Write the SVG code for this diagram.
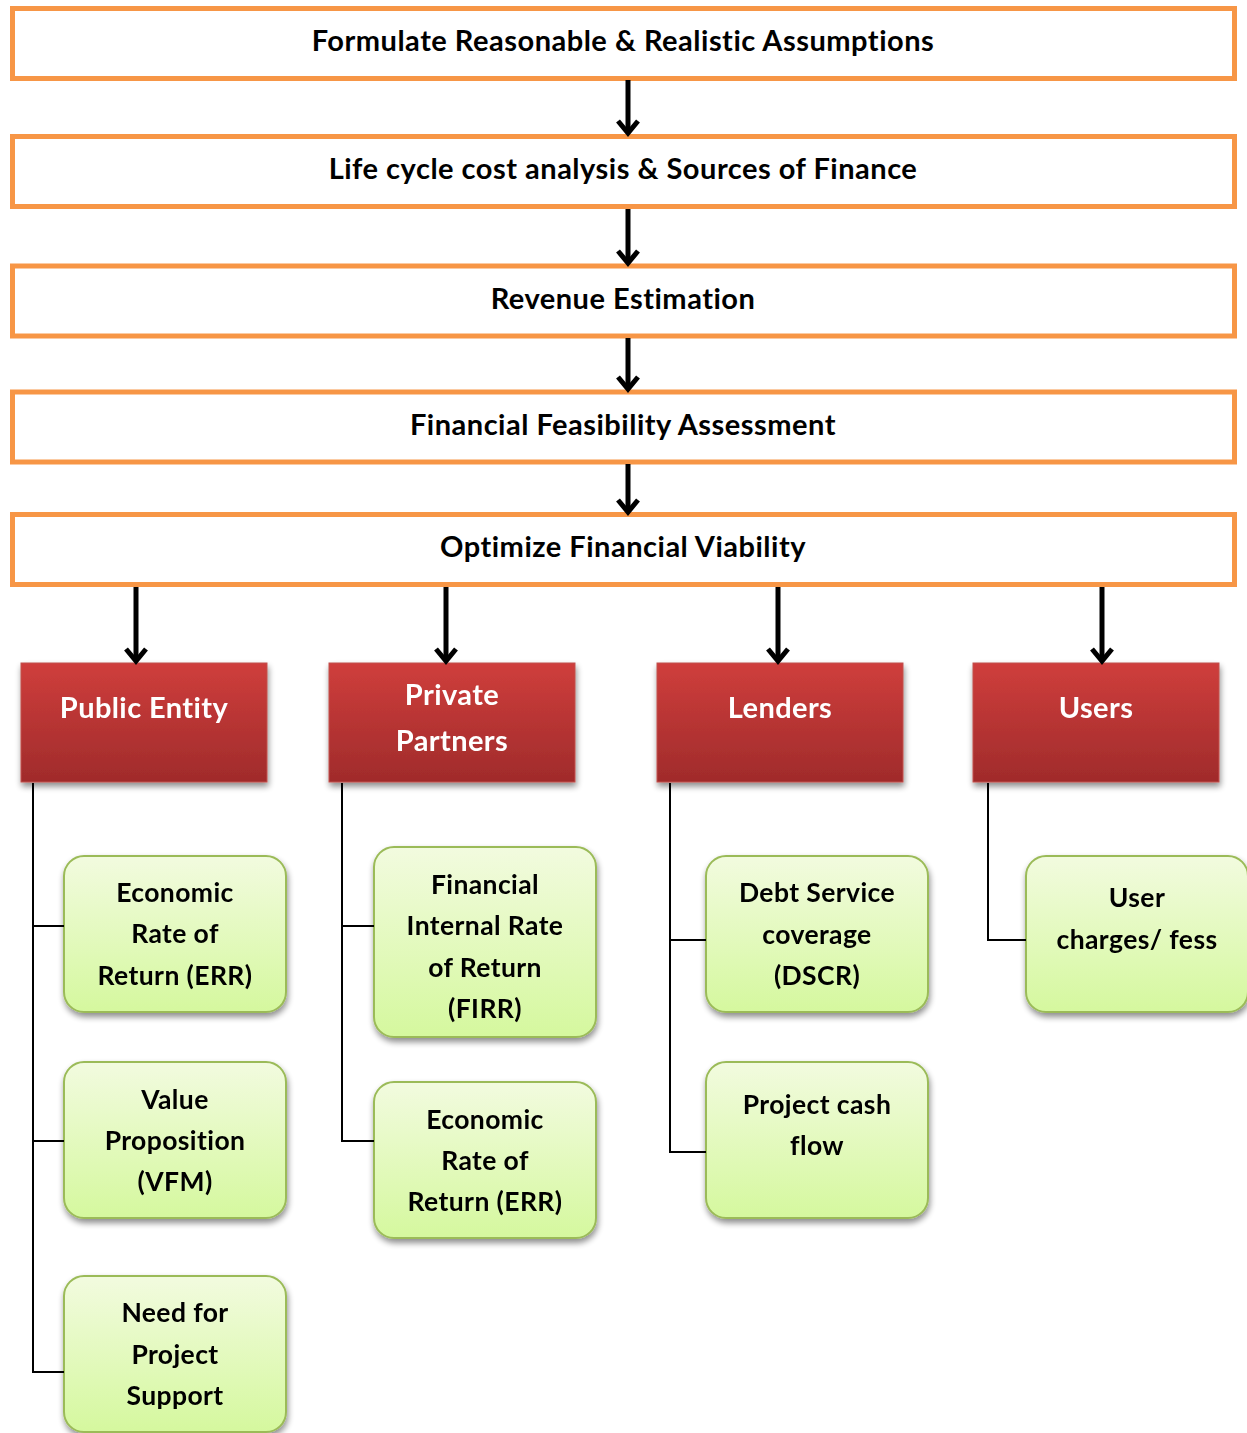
<svg xmlns="http://www.w3.org/2000/svg" width="1247" height="1433" viewBox="0 0 1247 1433">
<defs>
<linearGradient id="red" x1="0" y1="0" x2="0" y2="1"><stop offset="0" stop-color="#CF3E3C"/><stop offset="1" stop-color="#A02B2B"/></linearGradient>
<linearGradient id="green" x1="0" y1="0" x2="0" y2="1"><stop offset="0" stop-color="#F2FBDF"/><stop offset="1" stop-color="#D5F89E"/></linearGradient>
<filter id="sh" x="-10%" y="-10%" width="125%" height="130%"><feGaussianBlur in="SourceAlpha" stdDeviation="3"/><feOffset dx="1" dy="4"/><feComponentTransfer><feFuncA type="linear" slope="0.45"/></feComponentTransfer><feMerge><feMergeNode/><feMergeNode in="SourceGraphic"/></feMerge></filter>
</defs>
<style>
.ob{fill:#fff;stroke:#F79646;stroke-width:5}
.ot{font-family:Lato,"Open Sans",sans-serif;font-weight:bold;font-size:29px;letter-spacing:0.5px;fill:#000;text-anchor:middle}
.rb{fill:url(#red);stroke:#C0504D;stroke-width:1}
.rt{font-family:Lato,"Open Sans",sans-serif;font-weight:bold;font-size:29px;letter-spacing:0.4px;fill:#fff;text-anchor:middle}
.gb{fill:url(#green);stroke:#9BBB59;stroke-width:2}
.gt{font-family:Lato,"Open Sans",sans-serif;font-weight:bold;font-size:26.5px;letter-spacing:0.4px;fill:#000;text-anchor:middle}
.ar{stroke:#000;stroke-width:5;fill:none}
.ah{stroke:#000;stroke-width:5;fill:none;stroke-linejoin:miter}
.ln{stroke:#000;stroke-width:2;fill:none}
</style>
<g id="n1"><rect class="ob" x="12.5" y="8.5" width="1222" height="70"/><text class="ot" x="623" y="51">Formulate Reasonable &amp; Realistic Assumptions</text></g>
<g id="n2"><rect class="ob" x="12.5" y="136.5" width="1222" height="70"/><text class="ot" x="623" y="179">Life cycle cost analysis &amp; Sources of Finance</text></g>
<g id="n3"><rect class="ob" x="12.5" y="266" width="1222" height="70"/><text class="ot" x="623" y="309">Revenue Estimation</text></g>
<g id="n4"><rect class="ob" x="12.5" y="392" width="1222" height="70"/><text class="ot" x="623" y="435">Financial Feasibility Assessment</text></g>
<g id="n5"><rect class="ob" x="12.5" y="514.5" width="1222" height="70"/><text class="ot" x="623" y="557">Optimize Financial Viability</text></g>

<g id="r1" filter="url(#sh)"><rect class="rb" x="21" y="663" width="246" height="119"/><text class="rt" x="144" y="718">Public Entity</text></g>
<g id="r2" filter="url(#sh)"><rect class="rb" x="329" y="663" width="246" height="119"/><text class="rt" x="452" y="705">Private</text><text class="rt" x="452" y="751">Partners</text></g>
<g id="r3" filter="url(#sh)"><rect class="rb" x="657" y="663" width="246" height="119"/><text class="rt" x="780" y="718">Lenders</text></g>
<g id="r4" filter="url(#sh)"><rect class="rb" x="973" y="663" width="246" height="119"/><text class="rt" x="1096" y="718">Users</text></g>

<g id="g1" filter="url(#sh)"><rect class="gb" x="64" y="856" width="222" height="156" rx="20"/><text class="gt" x="175" y="902">Economic</text><text class="gt" x="175" y="943">Rate of</text><text class="gt" x="175" y="985">Return (ERR)</text></g>
<g id="g2" filter="url(#sh)"><rect class="gb" x="64" y="1062" width="222" height="156" rx="20"/><text class="gt" x="175" y="1109">Value</text><text class="gt" x="175" y="1150">Proposition</text><text class="gt" x="175" y="1191">(VFM)</text></g>
<g id="g3" filter="url(#sh)"><rect class="gb" x="64" y="1276" width="222" height="156" rx="20"/><text class="gt" x="175" y="1322">Need for</text><text class="gt" x="175" y="1364">Project</text><text class="gt" x="175" y="1405">Support</text></g>
<g id="g4" filter="url(#sh)"><rect class="gb" x="374" y="847" width="222" height="190" rx="20"/><text class="gt" x="485" y="894">Financial</text><text class="gt" x="485" y="935">Internal Rate</text><text class="gt" x="485" y="977">of Return</text><text class="gt" x="485" y="1018">(FIRR)</text></g>
<g id="g5" filter="url(#sh)"><rect class="gb" x="374" y="1082" width="222" height="156" rx="20"/><text class="gt" x="485" y="1129">Economic</text><text class="gt" x="485" y="1170">Rate of</text><text class="gt" x="485" y="1211">Return (ERR)</text></g>
<g id="g6" filter="url(#sh)"><rect class="gb" x="706" y="856" width="222" height="156" rx="20"/><text class="gt" x="817" y="902">Debt Service</text><text class="gt" x="817" y="944">coverage</text><text class="gt" x="817" y="985">(DSCR)</text></g>
<g id="g7" filter="url(#sh)"><rect class="gb" x="706" y="1062" width="222" height="156" rx="20"/><text class="gt" x="817" y="1114">Project cash</text><text class="gt" x="817" y="1155">flow</text></g>
<g id="g8" filter="url(#sh)"><rect class="gb" x="1026" y="856" width="222" height="156" rx="20"/><text class="gt" x="1137" y="907">User</text><text class="gt" x="1137" y="949">charges/ fess</text></g>

<g id="connectors">
<path class="ar" d="M628 80V132"/><path class="ah" d="M618 121L628 133L638 121"/>
<path class="ar" d="M628 209V262"/><path class="ah" d="M618 251L628 263L638 251"/>
<path class="ar" d="M628 338V388"/><path class="ah" d="M618 377L628 389L638 377"/>
<path class="ar" d="M628 464V511"/><path class="ah" d="M618 500L628 512L638 500"/>
<path class="ar" d="M136 587V660"/><path class="ah" d="M126 649L136 661L146 649"/>
<path class="ar" d="M446 587V660"/><path class="ah" d="M436 649L446 661L456 649"/>
<path class="ar" d="M778 587V660"/><path class="ah" d="M768 649L778 661L788 649"/>
<path class="ar" d="M1102 587V660"/><path class="ah" d="M1092 649L1102 661L1112 649"/>
<path class="ln" d="M33 783V1372H64M33 926H64M33 1141H64"/>
<path class="ln" d="M342 783V1141H374M342 926H374"/>
<path class="ln" d="M670 783V1152H706M670 940H706"/>
<path class="ln" d="M988 783V940H1026"/>
</g>
</svg>
